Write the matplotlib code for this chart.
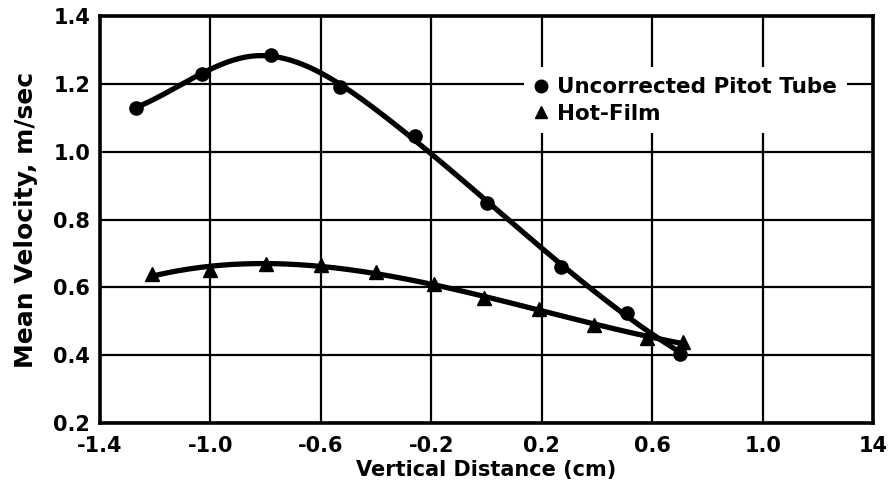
import matplotlib
matplotlib.use("Agg")
import matplotlib.pyplot as plt
import numpy as np

# values
pitot_x = [-1.27, -1.03, -0.78, -0.53, -0.26, 0.00, 0.27, 0.51, 0.70]
pitot_y = [1.13, 1.23, 1.285, 1.19, 1.045, 0.85, 0.66, 0.525, 0.405]

film_x = [-1.21, -1.00, -0.80, -0.60, -0.40, -0.19, -0.01, 0.19, 0.39, 0.58, 0.71]
film_y = [0.64, 0.65, 0.67, 0.665, 0.645, 0.61, 0.57, 0.535, 0.49, 0.45, 0.44]

x_ticks = [-1.4, -1.0, -0.6, -0.2, 0.2, 0.6, 1.0, 1.4]
x_ticklabels = ["-1.4", "-1.0", "-0.6", "-0.2", "0.2", "0.6", "1.0", "14"]
y_ticks = [0.2, 0.4, 0.6, 0.8, 1.0, 1.2, 1.4]
y_ticklabels = ["0.2", "0.4", "0.6", "0.8", "1.0", "1.2", "1.4"]


def smooth_fit(x, y, knots, n=300):
    # least squares cubic spline (truncated power basis) for a smooth curve
    x = np.asarray(x, float)
    def basis(t):
        cols = [np.ones_like(t), t, t ** 2, t ** 3]
        cols += [np.clip(t - k, 0, None) ** 3 for k in knots]
        return np.column_stack(cols)
    coef = np.linalg.lstsq(basis(x), np.asarray(y, float), rcond=None)[0]
    xs = np.linspace(x.min(), x.max(), n)
    return xs, basis(xs) @ coef


plt.rcParams['font.family'] = ['DejaVu Sans']
plt.rcParams['font.weight'] = 'bold'

fig = plt.figure(figsize=(8.92, 4.83), dpi=100)
ax = fig.add_axes([0.112, 0.124, 0.867, 0.843])

xs, ys = smooth_fit(pitot_x, pitot_y, [-0.85, -0.4])
ax.plot(xs, ys, color='black', lw=3.8, zorder=3)
xs2, ys2 = smooth_fit(film_x, film_y, [])
ax.plot(xs2, ys2, color='black', lw=3.8, zorder=3)

ax.plot(pitot_x, pitot_y, 'o', color='black', ms=9.5, zorder=4,
        label='Uncorrected Pitot Tube')
ax.plot(film_x, film_y, '^', color='black', ms=9.5, zorder=4, label='Hot-Film')

ax.set_xlim(-1.4, 1.4)
ax.set_ylim(0.2, 1.4)
ax.set_xticks(x_ticks)
ax.set_xticklabels(x_ticklabels)
ax.set_yticks(y_ticks)
ax.set_yticklabels(y_ticklabels)
ax.tick_params(axis='x', length=0, labelsize=15, pad=9)
ax.tick_params(axis='y', length=0, labelsize=15, pad=7)
ax.grid(True, color='black', lw=1.6)
ax.set_axisbelow(True)
for s in ax.spines.values():
    s.set_linewidth(2.6)

ax.set_xlabel("Vertical Distance (cm)", fontsize=15, fontweight='bold', labelpad=3)
ax.set_ylabel("Mean Velocity, m/sec", fontsize=18, fontweight='bold', labelpad=11)

leg = ax.legend(loc='upper left', bbox_to_anchor=(0.534, 0.9), frameon=True,
                fancybox=False, framealpha=1, facecolor='white', edgecolor='none',
                fontsize=15.5, handlelength=0.7, handletextpad=0.4, borderpad=0.45,
                labelspacing=0.3, markerscale=0.95)
leg.set_zorder(5)

fig.savefig("out.png", dpi=100)
